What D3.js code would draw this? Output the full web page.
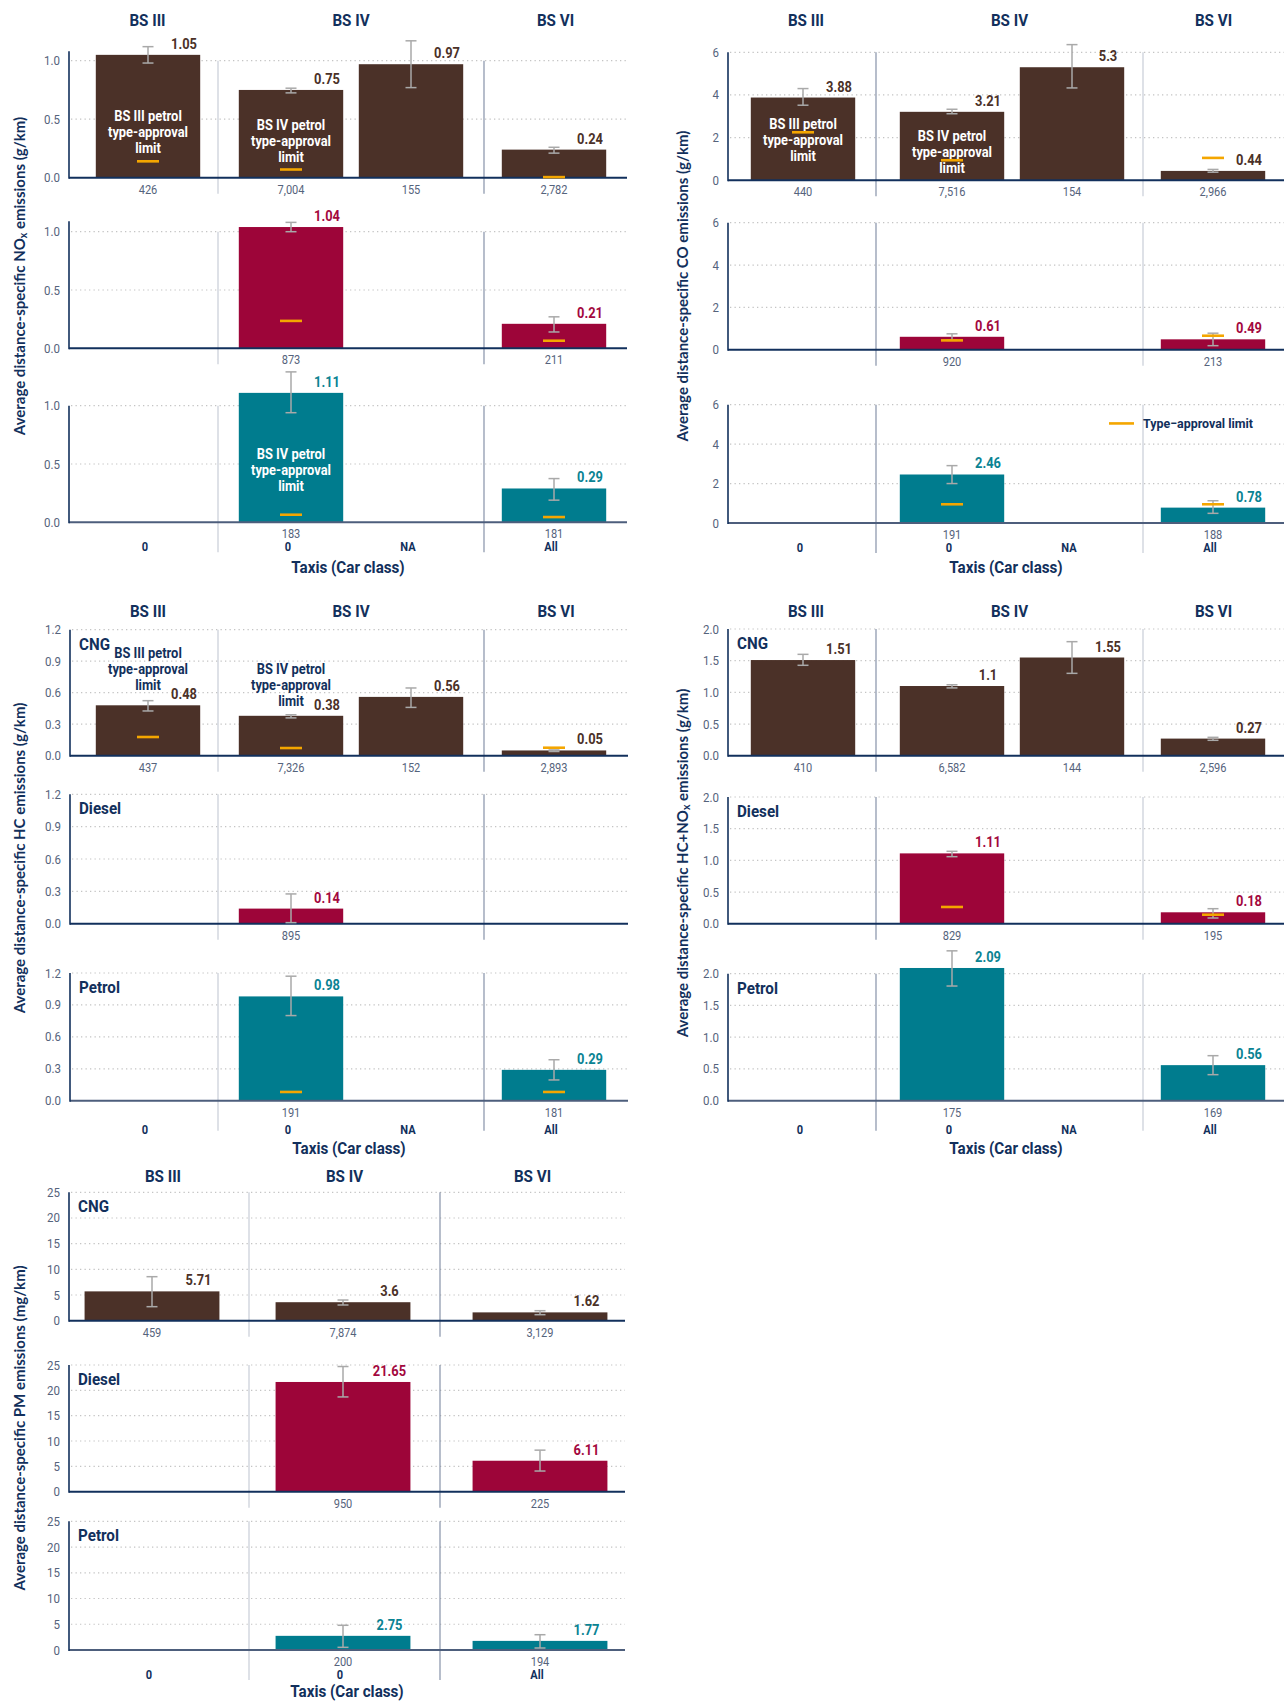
<!DOCTYPE html>
<html>
<head>
<meta charset="utf-8">
<script src="https://cdn.jsdelivr.net/npm/d3@7"></script>
<style>
  html, body { margin: 0; padding: 0; background: #ffffff; }
  svg { display: block; }
</style>
</head>
<body>
<svg id="fig" width="1286" height="1701"></svg>
<script>
// ---------------------------------------------------------------------------
// Data: emission standards, fuels, car classes and measured means per pollutant
// Row layout: fuel, standard, car class, mean, CI low, CI high, sample size, limit
// ---------------------------------------------------------------------------
const standards = ["BS III", "BS IV", "BS VI"];
const fuels = ["CNG", "Diesel", "Petrol"];
const carClasses = { "BS III": ["0"], "BS IV": ["0", "NA"], "BS VI": ["All"] };
const carClassesPM = { "BS III": ["0"], "BS IV": ["0"], "BS VI": ["All"] };

const noxRows = [
  ["CNG", "BS III", "0", 1.05, 0.98, 1.12, 426, 0.14],
  ["CNG", "BS IV", "0", 0.75, 0.725, 0.765, 7004, 0.07],
  ["CNG", "BS IV", "NA", 0.97, 0.77, 1.17, 155, null],
  ["CNG", "BS VI", "All", 0.24, 0.21, 0.26, 2782, 0.005],
  ["Diesel", "BS IV", "0", 1.04, 1.0, 1.08, 873, 0.235],
  ["Diesel", "BS VI", "All", 0.21, 0.14, 0.27, 211, 0.065],
  ["Petrol", "BS IV", "0", 1.11, 0.94, 1.29, 183, 0.065],
  ["Petrol", "BS VI", "All", 0.29, 0.19, 0.375, 181, 0.045]
];
const coRows = [
  ["CNG", "BS III", "0", 3.88, 3.52, 4.3, 440, 2.25],
  ["CNG", "BS IV", "0", 3.21, 3.12, 3.33, 7516, 0.94],
  ["CNG", "BS IV", "NA", 5.3, 4.33, 6.36, 154, null],
  ["CNG", "BS VI", "All", 0.44, 0.38, 0.51, 2966, 1.05],
  ["Diesel", "BS IV", "0", 0.61, 0.44, 0.75, 920, 0.44],
  ["Diesel", "BS VI", "All", 0.49, 0.19, 0.78, 213, 0.66],
  ["Petrol", "BS IV", "0", 2.46, 2.0, 2.91, 191, 0.95],
  ["Petrol", "BS VI", "All", 0.78, 0.49, 1.13, 188, 0.95]
];
const hcRows = [
  ["CNG", "BS III", "0", 0.48, 0.426, 0.524, 437, 0.178],
  ["CNG", "BS IV", "0", 0.38, 0.36, 0.39, 7326, 0.073],
  ["CNG", "BS IV", "NA", 0.56, 0.46, 0.645, 152, null],
  ["CNG", "BS VI", "All", 0.05, 0.04, 0.055, 2893, 0.076],
  ["Diesel", "BS IV", "0", 0.14, 0.01, 0.276, 895, null],
  ["Petrol", "BS IV", "0", 0.98, 0.8, 1.17, 191, 0.082],
  ["Petrol", "BS VI", "All", 0.29, 0.195, 0.385, 181, 0.082]
];
const hcnoxRows = [
  ["CNG", "BS III", "0", 1.51, 1.427, 1.6, 410, null],
  ["CNG", "BS IV", "0", 1.1, 1.07, 1.12, 6582, null],
  ["CNG", "BS IV", "NA", 1.55, 1.3, 1.8, 144, null],
  ["CNG", "BS VI", "All", 0.27, 0.243, 0.29, 2596, null],
  ["Diesel", "BS IV", "0", 1.11, 1.058, 1.143, 829, 0.264],
  ["Diesel", "BS VI", "All", 0.18, 0.09, 0.237, 195, 0.142],
  ["Petrol", "BS IV", "0", 2.09, 1.806, 2.36, 175, null],
  ["Petrol", "BS VI", "All", 0.56, 0.41, 0.709, 169, null]
];
const pmRows = [
  ["CNG", "BS III", "0", 5.71, 2.73, 8.57, 459, null],
  ["CNG", "BS IV", "0", 3.6, 3.06, 4.03, 7874, null],
  ["CNG", "BS VI", "All", 1.62, 1.17, 1.95, 3129, null],
  ["Diesel", "BS IV", "0", 21.65, 18.7, 24.7, 950, null],
  ["Diesel", "BS VI", "All", 6.11, 4.08, 8.2, 225, null],
  ["Petrol", "BS IV", "0", 2.75, 0.52, 4.8, 200, null],
  ["Petrol", "BS VI", "All", 1.77, 0.39, 2.97, 194, null]
];

// Y-axis tick values per pollutant
const noxTicks = [0, 0.5, 1.0];
const coTicks = [0, 2, 4, 6];
const hcTicks = [0, 0.3, 0.6, 0.9, 1.2];
const hcnoxTicks = [0, 0.5, 1.0, 1.5, 2.0];
const pmTicks = [0, 5, 10, 15, 20, 25];

// In-bar notes about the petrol type-approval limit
const noteLines = {
  "BS III": ["BS III petrol", "type-approval", "limit"],
  "BS IV": ["BS IV petrol", "type-approval", "limit"]
};
const notes = [
  ["nox", "CNG", "BS III", "0", 0.39, "light"],
  ["nox", "CNG", "BS IV", "0", 0.31, "light"],
  ["nox", "Petrol", "BS IV", "0", 0.45, "light"],
  ["co", "CNG", "BS III", "0", 1.89, "light"],
  ["co", "CNG", "BS IV", "0", 1.34, "light"],
  ["hc", "CNG", "BS III", "0", 0.826, "dark"],
  ["hc", "CNG", "BS IV", "0", 0.673, "dark"]
];
const legendLabel = "Type\u2212approval limit";
const xTitle = "Taxis (Car class)";

// ---------------------------------------------------------------------------
// Styling and panel geometry
// ---------------------------------------------------------------------------
const NAVY = "#12305c";
const SLATE = "#55637c";
const fuelColor = { CNG: "#4b3128", Diesel: "#9d0539", Petrol: "#007c8e" };
const labelColor = { CNG: "#4b3128", Diesel: "#a3083e", Petrol: "#0a8393" };
const LIMIT = "#f4a600";
const ERR = "#a9a9a9";
const NARROW = "Roboto, 'Liberation Sans', sans-serif";
const SQUEEZE = 0.92;               // horizontal compression of the label face
const TITLEFONT = "Lato, 'Open Sans', sans-serif";

const leftBands = [[76, 220], [219, 483], [482, 626]];
const rightBands = [[731, 875], [880, 1144], [1141, 1285]];

const charts = [
  { key: "nox", rows: noxRows, ticks: noxTicks, fmt: ".1f", classes: carClasses,
    title: ["Average distance-specific NO", "x", " emissions (g/km)"],
    axisX: 69, x1: 627, seps: [218, 484], bands: leftBands, sepColors: ["#c3c9d3", "#7b88a0"],
    headerY: 20, geom: [[177.7, 60.7, 1.08], [348.3, 231.7, 1.09], [522.3, 405.7, 1.0]],
    catY: 547, xTitleY: 567, titleX: 18.5, titleY: 276, fuelLabels: false },
  { key: "co", rows: coRows, ticks: coTicks, fmt: "d", classes: carClasses,
    title: ["Average distance-specific CO emissions (g/km)"],
    axisX: 728, x1: 1284, seps: [876, 1143], bands: rightBands, sepColors: ["#7b88a0", "#c3c9d3"],
    headerY: 20, geom: [[180.3, 52.3, 6], [349.7, 222.7, 6], [523, 404.7, 6]],
    catY: 548, xTitleY: 567, titleX: 681.5, titleY: 286, fuelLabels: false,
    legend: { fuel: "Petrol", value: 5.05, x: 1109 } },
  { key: "hc", rows: hcRows, ticks: hcTicks, fmt: ".1f", classes: carClasses,
    title: ["Average distance-specific HC emissions (g/km)"],
    axisX: 70, x1: 628, seps: [218, 484], bands: leftBands, sepColors: ["#c3c9d3", "#7b88a0"],
    headerY: 611, geom: [[755.7, 629.7, 1.2], [923.7, 794.3, 1.2], [1100.7, 973, 1.2]],
    catY: 1130, xTitleY: 1148.5, titleX: 18.5, titleY: 858, fuelLabels: true },
  { key: "hcnox", rows: hcnoxRows, ticks: hcnoxTicks, fmt: ".1f", classes: carClasses,
    title: ["Average distance-specific HC+NO", "x", " emissions (g/km)"],
    axisX: 728, x1: 1284, seps: [876, 1143], bands: rightBands, sepColors: ["#7b88a0", "#c3c9d3"],
    headerY: 611, geom: [[755.7, 629, 2], [923.7, 797, 2], [1100.7, 973.7, 2]],
    catY: 1130, xTitleY: 1148.5, titleX: 681.5, titleY: 863, fuelLabels: true },
  { key: "pm", rows: pmRows, ticks: pmTicks, fmt: "d", classes: carClassesPM,
    title: ["Average distance-specific PM emissions (mg/km)"],
    axisX: 69, x1: 625, seps: [249, 440], bands: [[59, 245], [250, 436], [447, 633]],
    sepColors: ["#c3c9d3", "#7b88a0"],
    headerY: 1176, geom: [[1320.7, 1192.3, 25], [1491.7, 1365, 25], [1650, 1521.3, 25]],
    catY: 1675, xTitleY: 1691.5, titleX: 18.5, titleY: 1428, fuelLabels: true }
];

const svg = d3.select("#fig");
const fmtCount = d3.format(",");

function toRecord(r) {
  return { fuel: r[0], standard: r[1], carClass: r[2], mean: r[3], low: r[4], high: r[5], n: r[6], limit: r[7] };
}

charts.forEach(chart => {
  const g = svg.append("g").attr("class", "chart-" + chart.key);
  const x0 = chart.axisX, x1 = chart.x1;
  const maxTick = chart.ticks[chart.ticks.length - 1];
  const data = chart.rows.map(toRecord);
  const facetEdges = [x0, chart.seps[0], chart.seps[1], x1];

  // one band scale per emission-standard facet
  const bands = {};
  standards.forEach((s, i) => {
    bands[s] = d3.scaleBand()
      .domain(chart.classes[s])
      .range(chart.bands[i])
      .paddingInner(0.13)
      .paddingOuter(0.165);
  });
  const cx = d => bands[d.standard](d.carClass) + bands[d.standard].bandwidth() / 2;

  // facet headers
  g.selectAll("text.header").data(standards).join("text")
    .attr("class", "header nr")
    .attr("x", (s, i) => (facetEdges[i] + facetEdges[i + 1]) / 2 + (i === 0 ? 4 : 0))
    .attr("y", chart.headerY)
    .attr("text-anchor", "middle").attr("dominant-baseline", "central")
    .attr("font-family", NARROW).attr("font-weight", 700).attr("font-size", 16.5)
    .attr("fill", NAVY).text(s => s);

  fuels.forEach((fuel, r) => {
    const [base, topPx, axisTop] = chart.geom[r];
    const last = r === fuels.length - 1;
    const y = d3.scaleLinear().domain([0, maxTick]).range([base, topPx]);
    const rows = data.filter(d => d.fuel === fuel);
    const row = g.append("g").attr("class", "row-" + fuel);

    // dotted gridlines
    row.selectAll("line.grid").data(chart.ticks.filter(t => t > 0)).join("line")
      .attr("class", "grid")
      .attr("x1", x0 + 2).attr("x2", x1)
      .attr("y1", d => y(d)).attr("y2", d => y(d))
      .attr("stroke", "#c4c4c4").attr("stroke-width", 1.2)
      .attr("stroke-dasharray", "1.3 3.2");

    // facet separators
    row.selectAll("line.sep").data(chart.seps).join("line")
      .attr("class", "sep")
      .attr("x1", s => s).attr("x2", s => s)
      .attr("y1", y(maxTick)).attr("y2", base + (last ? 30 : 16))
      .attr("stroke", (s, k) => chart.sepColors[k]).attr("stroke-width", 1.1);

    // bars
    row.selectAll("rect.bar").data(rows).join("rect")
      .attr("class", "bar")
      .attr("x", d => bands[d.standard](d.carClass))
      .attr("width", d => bands[d.standard].bandwidth())
      .attr("y", d => y(d.mean))
      .attr("height", d => base - y(d.mean))
      .attr("fill", fuelColor[fuel]);

    // y tick labels
    const axis = d3.axisLeft(y).tickValues(chart.ticks).tickFormat(d3.format(chart.fmt))
      .tickSize(0).tickPadding(9);
    const ax = row.append("g").attr("transform", `translate(${x0},0)`).call(axis);
    ax.select(".domain").remove();
    ax.selectAll("text").attr("class", "nr")
      .attr("font-family", NARROW).attr("font-size", 12.5).attr("fill", SLATE);

    // axis lines
    row.append("line")
      .attr("x1", x0).attr("x2", x1).attr("y1", base).attr("y2", base)
      .attr("stroke", last ? "#4d5e7c" : NAVY).attr("stroke-width", 2);
    row.append("line")
      .attr("x1", x0).attr("x2", x0).attr("y1", base + 1).attr("y2", y(axisTop))
      .attr("stroke", NAVY).attr("stroke-width", 1.6);

    // in-bar notes
    notes.filter(n => n[0] === chart.key && n[1] === fuel).forEach(n => {
      const b = bands[n[2]];
      const xc = b(n[3]) + b.bandwidth() / 2;
      row.selectAll(null).data(noteLines[n[2]]).join("text")
        .attr("class", "nr")
        .attr("x", xc).attr("y", (t, i) => y(n[4]) + (i - 1) * 16)
        .attr("text-anchor", "middle").attr("dominant-baseline", "central")
        .attr("font-family", NARROW).attr("font-weight", 700).attr("font-size", 14)
        .attr("fill", n[5] === "light" ? "#ffffff" : NAVY)
        .text(t => t);
    });

    // error bars
    const eb = row.selectAll("g.err").data(rows).join("g").attr("class", "err")
      .attr("stroke", ERR).attr("stroke-width", 1.5).attr("fill", "none");
    eb.append("line").attr("x1", cx).attr("x2", cx)
      .attr("y1", d => y(d.low)).attr("y2", d => y(d.high));
    eb.append("line").attr("x1", d => cx(d) - 5.5).attr("x2", d => cx(d) + 5.5)
      .attr("y1", d => y(d.high)).attr("y2", d => y(d.high));
    eb.append("line").attr("x1", d => cx(d) - 5.5).attr("x2", d => cx(d) + 5.5)
      .attr("y1", d => y(d.low)).attr("y2", d => y(d.low));

    // type-approval limits
    row.selectAll("line.limit").data(rows.filter(d => d.limit != null)).join("line")
      .attr("class", "limit")
      .attr("x1", d => cx(d) - 11).attr("x2", d => cx(d) + 11)
      .attr("y1", d => y(d.limit)).attr("y2", d => y(d.limit))
      .attr("stroke", LIMIT).attr("stroke-width", 2.6);

    // value labels
    row.selectAll("text.value").data(rows).join("text")
      .attr("class", "value nr")
      .attr("x", d => cx(d) + 0.3 * bands[d.standard].step())
      .attr("y", d => y(d.mean) - 11)
      .attr("text-anchor", "middle").attr("dominant-baseline", "central")
      .attr("font-family", NARROW).attr("font-weight", 700).attr("font-size", 14)
      .attr("fill", labelColor[fuel])
      .text(d => String(d.mean));

    // sample sizes
    row.selectAll("text.count").data(rows).join("text")
      .attr("class", "count nr")
      .attr("x", cx).attr("y", base + 12)
      .attr("text-anchor", "middle").attr("dominant-baseline", "central")
      .attr("font-family", NARROW).attr("font-size", 12).attr("fill", SLATE)
      .text(d => fmtCount(d.n));

    // fuel label
    if (chart.fuelLabels) {
      row.append("text")
        .attr("class", "nr")
        .attr("x", x0 + 9).attr("y", topPx + 14.5)
        .attr("dominant-baseline", "central")
        .attr("font-family", NARROW).attr("font-weight", 700).attr("font-size", 16.5)
        .attr("fill", NAVY).text(fuel);
    }

    // legend
    if (chart.legend && chart.legend.fuel === fuel) {
      const ly = y(chart.legend.value);
      row.append("line")
        .attr("x1", chart.legend.x).attr("x2", chart.legend.x + 25)
        .attr("y1", ly).attr("y2", ly)
        .attr("stroke", LIMIT).attr("stroke-width", 2.6);
      row.append("text")
        .attr("class", "nr")
        .attr("x", chart.legend.x + 34).attr("y", ly)
        .attr("dominant-baseline", "central")
        .attr("font-family", NARROW).attr("font-weight", 700).attr("font-size", 13.5)
        .attr("fill", NAVY).text(legendLabel);
    }
  });

  // car class labels under the last row
  const cats = [];
  standards.forEach(s => chart.classes[s].forEach(c => cats.push({ standard: s, carClass: c })));
  g.selectAll("text.cat").data(cats).join("text")
    .attr("class", "cat nr")
    .attr("x", d => cx(d) - 3).attr("y", chart.catY)
    .attr("text-anchor", "middle").attr("dominant-baseline", "central")
    .attr("font-family", NARROW).attr("font-weight", 700).attr("font-size", 12)
    .attr("fill", NAVY).text(d => d.carClass);

  // x-axis title
  g.append("text")
    .attr("class", "nr")
    .attr("x", (x0 + x1) / 2).attr("y", chart.xTitleY)
    .attr("text-anchor", "middle").attr("dominant-baseline", "central")
    .attr("font-family", NARROW).attr("font-weight", 700).attr("font-size", 16.5)
    .attr("fill", NAVY).text(xTitle);

  // y-axis title
  const t = g.append("text")
    .attr("transform", `translate(${chart.titleX},${chart.titleY}) rotate(-90)`)
    .attr("text-anchor", "middle").attr("dominant-baseline", "central")
    .attr("font-family", TITLEFONT).attr("font-weight", 700).attr("font-size", 15)
    .attr("fill", NAVY);
  if (chart.title.length === 1) {
    t.text(chart.title[0]);
  } else {
    t.append("tspan").text(chart.title[0]);
    t.append("tspan").attr("font-size", 10.5).attr("dy", 4).text(chart.title[1]);
    t.append("tspan").attr("dy", -4).text(chart.title[2]);
  }
});

// narrow the label face horizontally to a condensed width
svg.selectAll("text.nr").each(function () {
  const len = this.getComputedTextLength();
  if (len > 0) {
    d3.select(this)
      .attr("textLength", (len * SQUEEZE).toFixed(2))
      .attr("lengthAdjust", "spacingAndGlyphs");
  }
});
</script>
</body>
</html>
